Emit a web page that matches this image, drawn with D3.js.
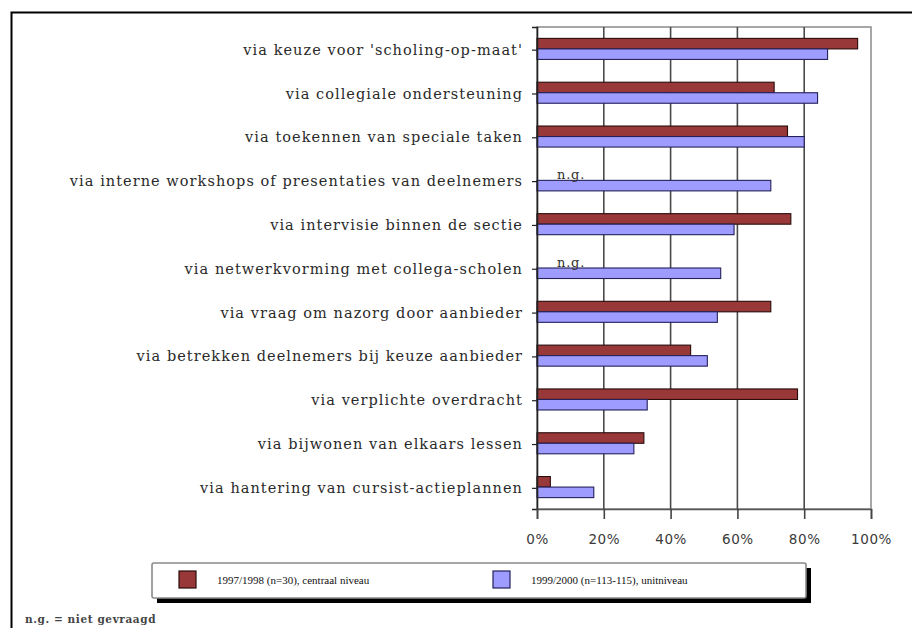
<!DOCTYPE html>
<html>
<head>
<meta charset="utf-8">
<script src="https://cdn.jsdelivr.net/npm/d3@7"></script>
<style>
  html, body { margin: 0; padding: 0; background: #fff; }
  svg { display: block; }
</style>
</head>
<body>
<svg id="chart" width="912" height="628"></svg>
<script>
// Ways of follow-up, share of respondents per survey
const categories = [
  "via keuze voor 'scholing-op-maat'",
  "via collegiale ondersteuning",
  "via toekennen van speciale taken",
  "via interne workshops of presentaties van deelnemers",
  "via intervisie binnen de sectie",
  "via netwerkvorming met collega-scholen",
  "via vraag om nazorg door aanbieder",
  "via betrekken deelnemers bij keuze aanbieder",
  "via verplichte overdracht",
  "via bijwonen van elkaars lessen",
  "via hantering van cursist-actieplannen"
];
// null = not asked in that survey (n.g.)
const values9798 = [96, 71, 75, null, 76, null, 70, 46, 78, 32, 4];
const values9900 = [87, 84, 80, 70, 59, 55, 54, 51, 33, 29, 17];
const seriesNames = [
  "1997/1998 (n=30), centraal niveau",
  "1999/2000 (n=113-115), unitniveau"
];
const xTicks = [0, 20, 40, 60, 80, 100];
const notAskedLabel = "n.g.";
const footnote = "n.g. = niet gevraagd";

const colors = ["#993838", "#9f9cff"];
const strokes = ["#2a0c0c", "#24205a"];

const svg = d3.select("#chart");

// outer frame (top and left edges)
svg.append("path")
  .attr("d", "M11.5,628 V12.5 H912")
  .attr("fill", "none").attr("stroke", "#000").attr("stroke-width", 2);

const plot = { left: 537, right: 871, top: 27, bottom: 509 };

const x = d3.scaleLinear().domain([0, 100]).range([plot.left, plot.right]);
const y = d3.scaleBand().domain(categories).range([plot.top, plot.bottom])
  .paddingInner(0.52).paddingOuter(0.26);
const sub = d3.scaleBand().domain([0, 1]).range([0, y.bandwidth()]);

// plot frame
svg.append("rect")
  .attr("x", plot.left).attr("y", plot.top)
  .attr("width", plot.right - plot.left).attr("height", plot.bottom - plot.top)
  .attr("fill", "none").attr("stroke", "#8a8a8a").attr("stroke-width", 1.5);

// vertical gridlines
svg.append("g").selectAll("line")
  .data(xTicks.slice(1, -1))
  .join("line")
  .attr("x1", d => x(d)).attr("x2", d => x(d))
  .attr("y1", plot.top).attr("y2", plot.bottom)
  .attr("stroke", "#4a4a4a").attr("stroke-width", 1.6);

// bars
const series = [values9798, values9900];
const rows = categories.map((c, i) => ({ c, v: series.map(s => s[i]) }));

series.forEach((s, k) => {
  svg.append("g").selectAll("rect")
    .data(categories.map((c, i) => ({ c, v: s[i] })).filter(d => d.v !== null))
    .join("rect")
    .attr("x", x(0))
    .attr("y", d => y(d.c) + sub(k))
    .attr("width", d => x(d.v) - x(0))
    .attr("height", sub.bandwidth())
    .attr("fill", colors[k])
    .attr("stroke", strokes[k])
    .attr("stroke-width", 1.1);
});

// "n.g." markers where the first survey did not ask
svg.append("g").selectAll("text")
  .data(rows.filter(d => d.v[0] === null))
  .join("text")
  .attr("x", x(0) + 20)
  .attr("y", d => y(d.c) + sub(0) + sub.bandwidth() - 1)
  .attr("font-family", "DejaVu Serif")
  .attr("font-size", 13)
  .attr("letter-spacing", 0.8)
  .attr("fill", "#333")
  .text(notAskedLabel);

// y axis
const yAxis = d3.axisLeft(y).tickSize(5).tickPadding(9);
const gy = svg.append("g")
  .attr("transform", `translate(${plot.left},0)`)
  .call(yAxis);
gy.select(".domain").attr("stroke", "#222").attr("stroke-width", 1.6);
gy.selectAll(".tick line").attr("stroke", "#222").attr("stroke-width", 1.2)
  .attr("transform", `translate(0,${sub.bandwidth() / 2 - 4})`);
gy.selectAll(".tick text")
  .attr("font-family", "DejaVu Serif")
  .attr("font-size", 14.5)
  .attr("letter-spacing", 1.05)
  .attr("dy", "0.4em")
  .attr("fill", "#2a2a2a");

// x axis
const xAxis = d3.axisBottom(x).tickValues(xTicks).tickFormat(d => d + "%")
  .tickSize(10).tickPadding(15);
const gx = svg.append("g")
  .attr("transform", `translate(0,${plot.bottom})`)
  .call(xAxis);
gx.select(".domain").attr("stroke", "#555").attr("stroke-width", 1.6);
gx.selectAll(".tick line").attr("stroke", "#444").attr("stroke-width", 1.6);
gx.selectAll(".tick text")
  .attr("font-family", "DejaVu Sans")
  .attr("font-size", 13.5)
  .attr("letter-spacing", 0.6)
  .attr("fill", "#3a3a3a");

// legend with drop shadow
const lg = { x: 152, y: 563, w: 654, h: 35 };
svg.append("rect")
  .attr("x", lg.x + 5).attr("y", lg.y + 5).attr("width", lg.w).attr("height", lg.h)
  .attr("fill", "#000");
svg.append("rect")
  .attr("x", lg.x).attr("y", lg.y).attr("width", lg.w).attr("height", lg.h)
  .attr("rx", 2)
  .attr("fill", "#fff").attr("stroke", "#8a8a8a").attr("stroke-width", 1.6);

const legendItems = svg.append("g").selectAll("g")
  .data(seriesNames)
  .join("g")
  .attr("transform", (d, i) => `translate(${[179, 493][i]},${lg.y + 8})`);
legendItems.append("rect")
  .attr("width", 17).attr("height", 17)
  .attr("fill", (d, i) => colors[i])
  .attr("stroke", (d, i) => strokes[i]).attr("stroke-width", 1.2);
legendItems.append("text")
  .attr("x", 38).attr("y", 13)
  .attr("font-family", "Liberation Serif")
  .attr("font-size", 11)
  .attr("fill", "#111")
  .text(d => d);

// footnote
svg.append("text")
  .attr("x", 25).attr("y", 623)
  .attr("font-family", "DejaVu Serif")
  .attr("font-size", 10.5)
  .attr("font-weight", "bold")
  .attr("letter-spacing", 0.6)
  .attr("fill", "#444")
  .text(footnote);
</script>
</body>
</html>
